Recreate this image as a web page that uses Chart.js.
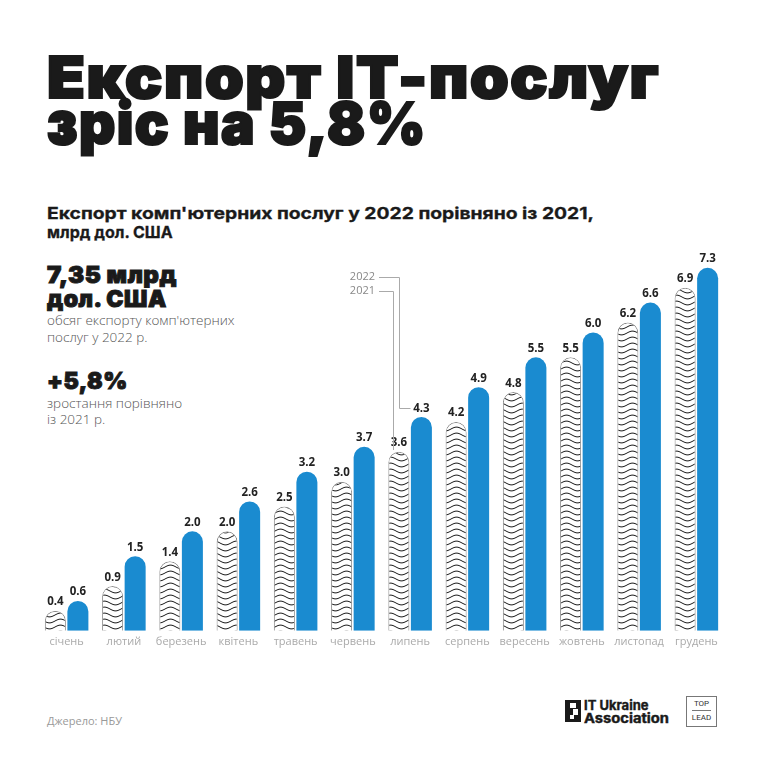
<!DOCTYPE html>
<html lang="uk">
<head>
<meta charset="utf-8">
<script src="https://cdn.jsdelivr.net/npm/chart.js@4.4.1/dist/chart.umd.min.js"></script>
<style>
  html, body { margin: 0; padding: 0; background: #fff; }
  #page { position: relative; width: 764px; height: 764px; overflow: hidden; background: #fff; color: #1a1a1a; }
  #chart { position: absolute; left: 0; top: 0; }
  .t { position: absolute; white-space: nowrap; transform-origin: 0 50%; }
  .heavy { font-family: "Inter", "Roboto", "DejaVu Sans", sans-serif; font-weight: 900; }
  .title { left: 47px; font-size: 58px; line-height: 58px; letter-spacing: 1.5px; -webkit-text-stroke: 2.2px #1a1a1a; }
  .sub { left: 47px; font-family: "Inter", "Roboto", sans-serif; font-weight: 700; font-size: 16px; line-height: 18px; -webkit-text-stroke: 0.3px #1a1a1a; }
  .big { left: 47px; font-size: 23px; line-height: 24px; letter-spacing: 0.5px; -webkit-text-stroke: 1px #1a1a1a; }
  .grey { left: 47px; font-family: "Open Sans", "Noto Sans", sans-serif; font-weight: 300; font-size: 13.5px; line-height: 16px; color: #555; }
  .src { left: 47px; top: 713px; font-family: "Open Sans", sans-serif; font-size: 11px; color: #999; }
  .logo { position: absolute; left: 565px; top: 700px; width: 16px; height: 22px; background: #1a1a1a; }
  .logo i { position: absolute; background: #fff; }
  .logotxt { left: 584px; font-family: "Inter", "Roboto", sans-serif; font-weight: 700; font-size: 13px; line-height: 13px; -webkit-text-stroke: 0.4px #1a1a1a; }
  .toplead { position: absolute; left: 686px; top: 696px; width: 29px; height: 29px; border: 1px solid #777; font-family: "Roboto", sans-serif; font-size: 8px; text-align: center; color: #333; }
  .toplead div { line-height: 13px; }
  .toplead hr { margin: 0 5px; border: 0; border-top: 1px solid #777; }
</style>
</head>
<body>
<div id="page">
  <div class="t heavy title" id="t1" style="top:48px">Експорт IT-послуг</div>
  <div class="t heavy title" id="t2" style="top:94px">зріс на 5,8%</div>

  <div class="t sub" id="s1" style="top:204px">Експорт комп'ютерних послуг у 2022 порівняно із 2021,</div>
  <div class="t sub" style="top:223px">млрд дол. США</div>

  <div class="t heavy big" id="b1" style="top:263px">7,35 млрд</div>
  <div class="t heavy big" style="top:287px">дол. США</div>
  <div class="t grey" style="top:312px">обсяг експорту комп'ютерних</div>
  <div class="t grey" style="top:329px">послуг у 2022 р.</div>

  <div class="t heavy big" style="top:369px">+5,8%</div>
  <div class="t grey" style="top:395px">зростання порівняно</div>
  <div class="t grey" style="top:411px">із 2021 р.</div>

  <div class="t src">Джерело: НБУ</div>

  <div class="logo"><i style="left:5px;top:3px;width:6px;height:5px"></i><i style="left:8px;top:9px;width:5px;height:6px"></i><i style="left:5px;top:15px;width:4px;height:4px"></i></div>
  <div class="t logotxt" id="l1" style="top:699px">IT Ukraine</div>
  <div class="t logotxt" id="l2" style="top:712px">Association</div>
  <div class="toplead"><div>TOP</div><hr><div>LEAD</div></div>

  <canvas id="chart" width="764" height="764"></canvas>
</div>
<script>
const months = ["січень", "лютий", "березень", "квітень", "травень", "червень",
  "липень", "серпень", "вересень", "жовтень", "листопад", "грудень"];
const exports2021 = [0.4, 0.9, 1.4, 2.0, 2.5, 3.0, 3.6, 4.2, 4.8, 5.5, 6.2, 6.9];
const exports2022 = [0.6, 1.5, 2.0, 2.6, 3.2, 3.7, 4.3, 4.9, 5.5, 6.0, 6.6, 7.3];
const yearLabels = ["2021", "2022"];
const legendMonth = 6; // липень

const BLUE = "#1a8bd0";

function fitWidth(id, target) {
  const el = document.getElementById(id);
  const w = el.getBoundingClientRect().width;
  el.style.transform = "scaleX(" + (target / w) + ")";
}
fitWidth("t1", 613);
fitWidth("t2", 380);
fitWidth("s1", 547);
fitWidth("b1", 130);
fitWidth("l2", 85);

// wavy hatching for 2021 bars
function wavePattern() {
  const pc = document.createElement("canvas");
  pc.width = 22;
  pc.height = 6;
  const c = pc.getContext("2d");
  c.fillStyle = "#fff";
  c.fillRect(0, 0, 22, 6);
  c.strokeStyle = "#1a1a1a";
  c.lineWidth = 1;
  c.beginPath();
  for (let x = 0; x <= 22; x++) {
    const y = 3 + 1.9 * Math.sin((x / 22) * Math.PI * 2);
    if (x === 0) c.moveTo(x, y);
    else c.lineTo(x, y);
  }
  c.stroke();
  return c.createPattern(pc, "repeat");
}

const valueLabels = {
  id: "valueLabels",
  afterDatasetsDraw(chart) {
    const ctx = chart.ctx;
    ctx.save();
    ctx.font = "bold 11.5px 'Open Sans', 'Noto Sans', sans-serif";
    ctx.fillStyle = "#222";
    ctx.textAlign = "center";
    ctx.textBaseline = "bottom";
    chart.data.datasets.forEach((ds, di) => {
      chart.getDatasetMeta(di).data.forEach((bar, i) => {
        ctx.fillText(ds.data[i].toFixed(1), bar.x, bar.y - 3);
      });
    });
    ctx.restore();
  }
};

const yearLegend = {
  id: "yearLegend",
  afterDatasetsDraw(chart) {
    const ctx = chart.ctx;
    const b21 = chart.getDatasetMeta(0).data[legendMonth];
    const b22 = chart.getDatasetMeta(1).data[legendMonth];
    ctx.save();
    ctx.font = "11px 'Open Sans', 'Noto Sans', sans-serif";
    ctx.fillStyle = "#888";
    ctx.textAlign = "right";
    ctx.textBaseline = "middle";
    ctx.fillText(yearLabels[1], 375, 277);
    ctx.fillText(yearLabels[0], 375, 291);
    ctx.strokeStyle = "#aaa";
    ctx.lineWidth = 1;
    const x22 = Math.round(b22.x - 22) + 0.5;
    const y22 = Math.round(b22.y - 9) + 0.5;
    ctx.beginPath();
    ctx.moveTo(379, 277.5);
    ctx.lineTo(x22, 277.5);
    ctx.lineTo(x22, y22);
    ctx.lineTo(x22 + 11, y22);
    ctx.stroke();
    const x21 = Math.round(b21.x - 6) + 0.5;
    ctx.beginPath();
    ctx.moveTo(379, 291.5);
    ctx.lineTo(x21, 291.5);
    ctx.lineTo(x21, Math.round(b21.y - 2));
    ctx.stroke();
    ctx.restore();
  }
};

new Chart(document.getElementById("chart"), {
  type: "bar",
  data: {
    labels: months,
    datasets: [
      {
        label: yearLabels[0],
        data: exports2021,
        backgroundColor: wavePattern(),
        borderColor: "#8a8a8a",
        borderWidth: 1,
        borderSkipped: "bottom",
        borderRadius: { topLeft: 11, topRight: 11, bottomLeft: 0, bottomRight: 0 }
      },
      {
        label: yearLabels[1],
        data: exports2022,
        backgroundColor: BLUE,
        borderWidth: 0,
        borderRadius: { topLeft: 11, topRight: 11, bottomLeft: 0, bottomRight: 0 }
      }
    ]
  },
  options: {
    responsive: false,
    animation: false,
    layout: { padding: { left: 38, right: 39, top: 233, bottom: 112 } },
    datasets: { bar: { categoryPercentage: 0.787, barPercentage: 0.933 } },
    plugins: { legend: { display: false }, tooltip: { enabled: false } },
    scales: {
      x: {
        grid: { display: false, drawTicks: false },
        border: { display: false },
        ticks: {
          color: "#aaa",
          padding: 4,
          font: { family: "'Open Sans', 'Noto Sans', sans-serif", size: 11 }
        }
      },
      y: { display: false, min: 0, max: 8 }
    }
  },
  plugins: [valueLabels, yearLegend]
});
</script>
</body>
</html>
